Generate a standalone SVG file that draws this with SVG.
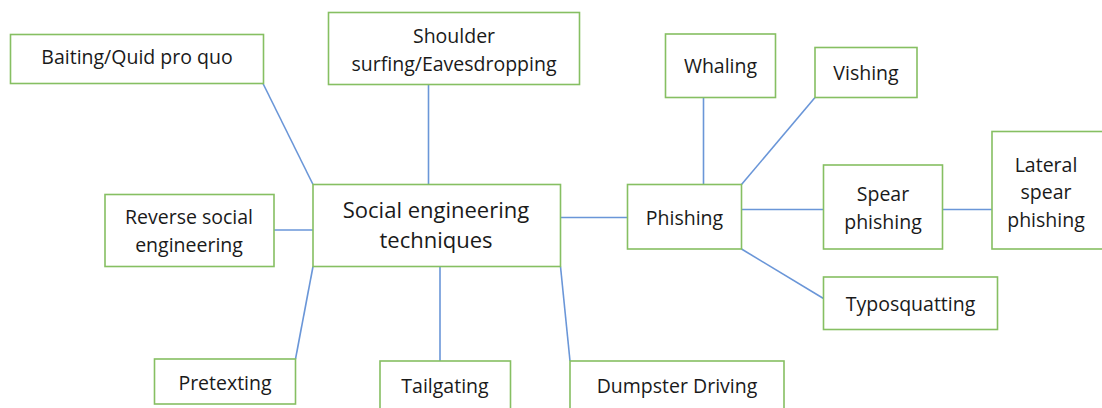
<svg xmlns="http://www.w3.org/2000/svg" width="1102" height="408" viewBox="0 0 1102 408">
<style>
.box{fill:#ffffff;stroke:#86bf62;stroke-width:1.6}
.t{font-family:"Open Sans","Liberation Sans",sans-serif;font-size:19.5px;fill:#1a1a1a;text-anchor:middle}
.big{font-size:22px}
.c{stroke:#6a96d8;stroke-width:1.6;fill:none}
</style>
<rect width="1102" height="408" fill="#ffffff"/>
<g id="connectors">
<line class="c" x1="263" y1="83.5" x2="313" y2="184.5"/>
<line class="c" x1="428.5" y1="84.5" x2="428.5" y2="184.5"/>
<line class="c" x1="274" y1="230" x2="313" y2="230"/>
<line class="c" x1="313" y1="266.5" x2="295.5" y2="359"/>
<line class="c" x1="440" y1="266.5" x2="440" y2="361"/>
<line class="c" x1="560.5" y1="266.5" x2="570" y2="361"/>
<line class="c" x1="560.5" y1="217.5" x2="627.5" y2="217.5"/>
<line class="c" x1="703.5" y1="97.5" x2="703.5" y2="184.5"/>
<line class="c" x1="815" y1="97.5" x2="741.5" y2="184.5"/>
<line class="c" x1="741.5" y1="209.5" x2="823.5" y2="209.5"/>
<line class="c" x1="942.5" y1="209.5" x2="992" y2="209.5"/>
<line class="c" x1="741.5" y1="249" x2="823.5" y2="298.5"/>
</g>
<g id="baiting"><rect class="box" x="10.5" y="34.5" width="253" height="49"/><text class="t" x="137" y="64">Baiting/Quid pro quo</text></g>
<g id="shoulder"><rect class="box" x="328.5" y="12.5" width="251" height="72"/><text class="t" x="454" y="43">Shoulder</text><text class="t" x="454" y="71">surfing/Eavesdropping</text></g>
<g id="center"><rect class="box" x="313" y="184.5" width="247.5" height="82"/><text class="t big" x="436" y="218">Social engineering</text><text class="t big" x="436" y="248">techniques</text></g>
<g id="reverse"><rect class="box" x="105" y="194.5" width="169" height="72"/><text class="t" x="189" y="224">Reverse social</text><text class="t" x="189" y="252">engineering</text></g>
<g id="pretexting"><rect class="box" x="154.5" y="359" width="141" height="45"/><text class="t" x="225" y="390">Pretexting</text></g>
<g id="tailgating"><rect class="box" x="380" y="361" width="130.5" height="60"/><text class="t" x="445" y="393">Tailgating</text></g>
<g id="dumpster"><rect class="box" x="570" y="361" width="214" height="60"/><text class="t" x="677" y="393">Dumpster Driving</text></g>
<g id="phishing"><rect class="box" x="627.5" y="184.5" width="114" height="64.5"/><text class="t" x="684.5" y="225">Phishing</text></g>
<g id="whaling"><rect class="box" x="665.5" y="34" width="110" height="63.5"/><text class="t" x="720.5" y="73">Whaling</text></g>
<g id="vishing"><rect class="box" x="815" y="47.5" width="102" height="50"/><text class="t" x="866" y="80">Vishing</text></g>
<g id="spear"><rect class="box" x="823.5" y="165" width="119" height="84"/><text class="t" x="883" y="201">Spear</text><text class="t" x="883" y="229">phishing</text></g>
<g id="lateral"><rect class="box" x="992" y="131.5" width="113" height="117.5"/><text class="t" x="1046" y="172">Lateral</text><text class="t" x="1046" y="199">spear</text><text class="t" x="1046" y="227">phishing</text></g>
<g id="typosquatting"><rect class="box" x="823.5" y="277" width="174" height="52.5"/><text class="t" x="910.5" y="311">Typosquatting</text></g>
</svg>
